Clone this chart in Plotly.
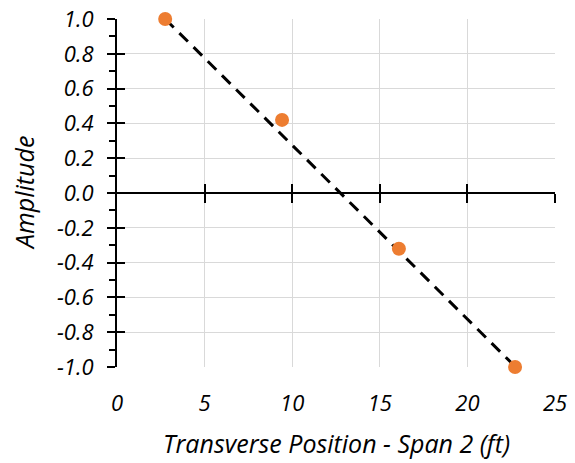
import plotly.graph_objects as go

# Data
point_x = [2.75, 9.42, 16.09, 22.72]
point_y = [1.0, 0.42, -0.32, -1.0]
line_x = [2.75, 22.75]
line_y = [1.0, -1.0]

x_tick_vals = [0, 5, 10, 15, 20, 25]
x_tick_text = ["0", "5", "10", "15", "20", "25"]
y_tick_vals = [1.0, 0.8, 0.6, 0.4, 0.2, 0.0, -0.2, -0.4, -0.6, -0.8, -1.0]
y_tick_text = ["1.0", "0.8", "0.6", "0.4", "0.2", "0.0", "-0.2", "-0.4", "-0.6", "-0.8", "-1.0"]
x_title = "Transverse Position - Span 2 (ft)"
y_title = "Amplitude"

FONT = "Open Sans"
GRID = "#d9d9d9"

fig = go.Figure()

fig.add_trace(go.Scatter(
    x=line_x, y=line_y, mode="lines",
    line=dict(color="black", width=3, dash="12px,8px"),
    showlegend=False, hoverinfo="skip", cliponaxis=False,
))
fig.add_trace(go.Scatter(
    x=point_x, y=point_y, mode="markers",
    marker=dict(color="#ED7D31", size=14),
    showlegend=False, cliponaxis=False,
))
# empty traces so the overlay axes are drawn
for ax in ["x2", "x3"]:
    fig.add_trace(go.Scatter(x=[None], y=[None], xaxis=ax, yaxis="y", showlegend=False))
for ay in ["y2", "y3"]:
    fig.add_trace(go.Scatter(x=[None], y=[None], xaxis="x", yaxis=ay, showlegend=False))

tickfont = dict(family=FONT, size=22, color="black", style="italic")
titlefont = dict(family=FONT, size=25, color="black", style="italic")

fig.update_layout(
    width=575, height=463,
    margin=dict(l=117, r=20, t=19, b=96),
    plot_bgcolor="white", paper_bgcolor="white",
    xaxis=dict(
        range=[0, 25], tickvals=x_tick_vals, ticktext=x_tick_text,
        showgrid=True, gridcolor=GRID, gridwidth=1.3,
        showline=False, zeroline=False, ticks="", automargin=False,
        tickfont=tickfont, ticklabelstandoff=21, ticklabeloverflow="allow",
    ),
    xaxis2=dict(
        range=[0, 25], overlaying="x", anchor="free", position=0.5,
        tickvals=x_tick_vals[1:], showticklabels=False, automargin=False,
        showgrid=False, zeroline=False, showline=True, linecolor="black", linewidth=1.5,
        ticks="outside", ticklen=9, tickwidth=1.5, tickcolor="black",
    ),
    xaxis3=dict(
        range=[0, 25], overlaying="x", anchor="free", position=0.5,
        tickvals=x_tick_vals[1:], showticklabels=False, automargin=False,
        showgrid=False, zeroline=False, showline=False,
        ticks="inside", ticklen=9, tickwidth=1.5, tickcolor="black",
    ),
    # label-bearing y axis: invisible outside ticks push labels away from the line
    yaxis=dict(
        range=[-1, 1], tickvals=y_tick_vals, ticktext=y_tick_text,
        showgrid=True, gridcolor=GRID, gridwidth=1.3, automargin=False,
        showline=False, zeroline=False,
        ticks="outside", ticklen=18, tickcolor="rgba(0,0,0,0)",
        tickfont=tickfont, ticklabeloverflow="allow",
    ),
    yaxis2=dict(
        range=[-1, 1], overlaying="y", anchor="x", side="left", automargin=False,
        tickvals=y_tick_vals, showticklabels=False,
        showgrid=False, zeroline=False, showline=True, linecolor="black", linewidth=1.5,
        ticks="outside", ticklen=8, tickwidth=1.5, tickcolor="black",
        minor=dict(dtick=0.1, ticks="outside", ticklen=6, tickwidth=1.5, tickcolor="black", showgrid=False),
    ),
    yaxis3=dict(
        range=[-1, 1], overlaying="y", anchor="x", side="left", automargin=False,
        tickvals=y_tick_vals, showticklabels=False,
        showgrid=False, zeroline=False, showline=False,
        ticks="inside", ticklen=8, tickwidth=1.5, tickcolor="black",
    ),
    annotations=[
        dict(text=x_title, xref="paper", yref="paper", x=0.5, y=0,
             xanchor="center", yanchor="middle", yshift=-76, showarrow=False, font=titlefont),
        dict(text=y_title, xref="paper", yref="paper", x=0, y=0.5, textangle=-90,
             xanchor="center", yanchor="middle", xshift=-93, showarrow=False, font=titlefont),
    ],
)

fig.write_html("out.html", config={"displayModeBar": False},
               post_script="document.body.style.margin='0';")
